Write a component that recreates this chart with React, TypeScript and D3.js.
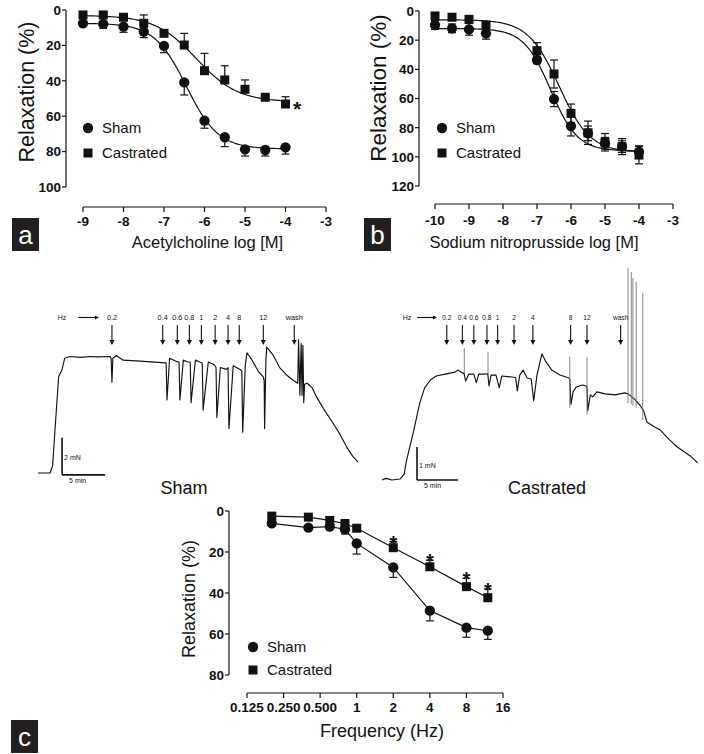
import React from "react";
import * as d3 from "d3";

const FONT = "'Liberation Sans', Arial, Helvetica, sans-serif";
const INK = "#111";

// ---------- Panel a: Acetylcholine ----------
const achLogM = [-9, -8.5, -8, -7.5, -7, -6.5, -6, -5.5, -5, -4.5, -4];
const achSham = [7.5, 7.9, 9.4, 12.2, 20.3, 40.9, 62.5, 71.9, 78.7, 79.1, 77.6];
const achShamErr = [1.5, 2.5, 3.2, 3.4, 3.8, 7.1, 4.3, 5.3, 3.8, 3.4, 3.8];
const achCast = [2.8, 2.8, 4.1, 7.5, 13.2, 19.8, 34.3, 39.5, 44.8, 49.3, 53.1];
const achCastErr = [1.8, 1.5, 1.5, 4.7, 1.5, 6.6, 9.8, 8, 5.3, 1.5, 4.1];
// fit parameters: bottom, top, logEC50, hill
const achShamFit = [7.5, 78.5, -6.45, 1.1];
const achCastFit = [3, 52, -6.2, 0.85];
const achTicksX = [-9, -8, -7, -6, -5, -4, -3];
const achTicksY = [0, 20, 40, 60, 80, 100];

// ---------- Panel b: Sodium nitroprusside ----------
const snpLogM = [-10, -9.5, -9, -8.5, -7, -6.5, -6, -5.5, -5, -4.5, -4];
const snpSham = [9.6, 11.9, 12.6, 15.3, 33.6, 60.4, 78.9, 83.9, 90.7, 93, 96.5];
const snpShamErr = [3, 3, 4, 4, 2.5, 5.2, 6.8, 5, 4, 4, 4];
const snpCast = [3.4, 4.3, 5.7, 9.6, 27.2, 43.2, 70.2, 83.5, 90, 93, 98.8];
const snpCastErr = [2, 2, 2, 2, 5.5, 9.6, 6.4, 8, 6, 5.5, 6];
const snpShamFit = [12, 96, -6.6, 1.1];
const snpCastFit = [6, 97, -6.35, 0.95];
const snpTicksX = [-10, -9, -8, -7, -6, -5, -4, -3];
const snpTicksY = [0, 20, 40, 60, 80, 100, 120];

// ---------- Panel c: Frequency ----------
const freqHz = [0.2, 0.4, 0.6, 0.8, 1, 2, 4, 8, 12];
const freqSham = [6, 8.1, 7.6, 8.9, 15.8, 27.5, 48.6, 56.9, 58.4];
const freqShamErr = [1, 1, 1, 2.3, 5.2, 4.9, 5, 4.7, 4.2];
const freqCast = [2.5, 3, 4.6, 6.2, 8.4, 17.9, 27.2, 36.9, 42.3];
const freqCastErr = [1, 1, 1, 2, 1, 3, 3.2, 4.1, 4.3];
const freqSignificant = [false, false, false, false, false, true, true, true, true];
const freqTicks = [0.125, 0.25, 0.5, 1, 2, 4, 8, 16];
const freqTickLabels = ["0.125", "0.250", "0.500", "1", "2", "4", "8", "16"];
const freqTicksY = [0, 20, 40, 60, 80];

// ---------- Traces (time in min, tension in mN) ----------
const shamTrace: [number, number][] = [
  [0, 0], [1.4, 0], [1.7, 0.4], [2.0, 2.5], [2.4, 5.2], [2.8, 5.6], [3.1, 6.2], [3.7, 6.3], [5, 6.25], [6, 6.3], [7, 6.28], [8.4, 6.3],
  [8.5, 6.2], [8.6, 4.9], [8.7, 6.2], [9.1, 6.35], [9.9, 6.1], [11.9, 6.05], [14.8, 5.95],
  [14.9, 5.95], [15.0, 3.95], [15.3, 6.2], [16.0, 6.05],
  [16.4, 6.0], [16.5, 3.95], [16.9, 6.1], [17.4, 6.0],
  [17.7, 6.0], [17.8, 3.8], [18.3, 6.1], [18.8, 6.0],
  [19.1, 5.95], [19.2, 3.4], [19.8, 6.0], [20.5, 5.85],
  [20.7, 5.7], [20.8, 3.0], [21.2, 5.7], [21.9, 5.6],
  [22.1, 5.7], [22.2, 2.4], [22.7, 5.8], [23.5, 5.6],
  [23.7, 5.5], [23.8, 2.2], [24.1, 5.8], [24.3, 6.5], [24.9, 6.1], [25.6, 5.5], [26.2, 5.2],
  [26.3, 5.0], [26.35, 2.4], [26.5, 6.1], [26.6, 6.8], [27.3, 6.4], [28.1, 5.7], [28.9, 5.3], [29.7, 5.0], [30.2, 4.85],
  [30.3, 7.2], [30.45, 4.2], [30.6, 7.0], [30.7, 4.2], [30.8, 6.9], [30.9, 3.8], [31.0, 4.8], [31.3, 4.85], [31.9, 4.6],
  [32.4, 4.1], [33.3, 3.4], [34.3, 2.7], [35.1, 2.1], [35.9, 1.4], [36.6, 0.9], [37.2, 0.6],
];
const shamStimLabels = ["0.2", "0.4", "0.6", "0.8", "1", "2", "4", "8", "12", "wash"];
const shamStimTimes = [8.6, 14.5, 16.2, 17.6, 19.0, 20.6, 22.1, 23.4, 26.2, 29.8];

const castTrace: [number, number][] = [
  [0, 0], [0.5, 0.05], [1.2, 0], [2.2, 0.03], [2.7, 0.18], [3.0, 0.6], [3.8, 1.42], [4.6, 2.33], [5.2, 2.79], [5.9, 3.03], [6.6, 3.15],
  [7.7, 3.21], [8.9, 3.27], [9.3, 3.33], [9.8, 3.24], [10.0, 3.24], [10.2, 3.0], [10.6, 3.21], [11.2, 3.21], [11.5, 2.95], [11.8, 3.21],
  [12.4, 3.21], [12.9, 3.22], [13.05, 2.85], [13.3, 3.18], [13.9, 3.18], [14.3, 2.8], [14.6, 3.15], [15.9, 3.12], [16.3, 3.1], [16.5, 2.7],
  [16.8, 3.18], [17.2, 3.33], [17.7, 3.09], [18.2, 3.06], [18.5, 2.4], [18.9, 3.18], [19.5, 3.82], [20.0, 3.58], [20.7, 3.33], [21.7, 3.18],
  [22.8, 3.09], [22.9, 3.05], [23.05, 2.3], [23.3, 2.67], [23.7, 2.82], [24.4, 2.88], [24.9, 2.85], [25.0, 2.8], [25.1, 2.1], [25.4, 2.58],
  [25.7, 2.52], [26.2, 2.67], [27.2, 2.61], [28.4, 2.58], [29.6, 2.64], [30.0, 2.61], [30.8, 2.45], [31.5, 2.25], [31.9, 2.1], [32.3, 1.76],
  [33.3, 1.6], [33.9, 1.52], [35.1, 1.21], [36.0, 1.0], [37.6, 0.73], [38.5, 0.52],
];
// [time, low, high] thin spikes
const castSpikes: [number, number, number][] = [
  [10.04, 3.24, 4.0], [12.93, 3.2, 3.88], [22.9, 2.18, 3.73], [25.0, 1.97, 3.73],
  [30.0, 2.33, 6.42], [30.4, 2.3, 6.3], [30.6, 2.25, 6.12], [31.0, 2.2, 6.0], [31.8, 1.82, 5.67],
];
const castStimLabels = ["0.2", "0.4", "0.6", "0.8", "1", "2", "4", "8", "12", "wash"];
const castStimTimes = [7.9, 9.8, 11.2, 12.8, 14.1, 16.1, 18.4, 23.0, 25.0, 29.1];

function logistic(p: number[], x: number) {
  const [b, t, ec, h] = p;
  return b + (t - b) / (1 + Math.pow(10, (ec - x) * h));
}

function ErrorBars({ xs, ys, xv, yv, ev, dir, cap = 8 }: any) {
  const out: any[] = [];
  xv.forEach((x: number, i: number) => {
    const X = xs(x);
    const Y = ys(yv[i]);
    if (dir !== "up") {
      const y2 = ys(yv[i] + ev[i]);
      out.push(<line key={"d" + i} x1={X} x2={X} y1={Y} y2={y2} />);
      out.push(<line key={"dc" + i} x1={X - cap / 2} x2={X + cap / 2} y1={y2} y2={y2} />);
    }
    if (dir !== "down") {
      const y2 = ys(yv[i] - ev[i]);
      out.push(<line key={"u" + i} x1={X} x2={X} y1={Y} y2={y2} />);
      out.push(<line key={"uc" + i} x1={X - cap / 2} x2={X + cap / 2} y1={y2} y2={y2} />);
    }
  });
  return <g stroke={INK} strokeWidth={1.2}>{out}</g>;
}

function Marker({ x, y, kind, size = 9 }: any) {
  if (kind === "circle") return <circle cx={x} cy={y} r={size / 2 + 0.4} fill={INK} />;
  return <rect x={x - size / 2} y={y - size / 2} width={size} height={size} fill={INK} />;
}

function Axes({ xs, ys, yAxisX, xAxisY, xTicks, xLabels, yTicks, xDomain, yDomain, tickFont = 13.5, xLabelBase }: any) {
  return (
    <g>
      <line x1={yAxisX} x2={yAxisX} y1={ys(yDomain[0])} y2={ys(yDomain[1])} stroke={INK} strokeWidth={1.2} />
      {yTicks.map((t: number) => (
        <g key={"y" + t}>
          <line x1={yAxisX - 4} x2={yAxisX} y1={ys(t)} y2={ys(t)} stroke={INK} strokeWidth={1.2} />
          <text x={yAxisX - 5} y={ys(t)} dy="0.36em" textAnchor="end" fontSize={tickFont} fontWeight="bold" fontFamily={FONT} fill={INK}>{t}</text>
        </g>
      ))}
      <line x1={xs(xDomain[0])} x2={xs(xDomain[1])} y1={xAxisY} y2={xAxisY} stroke={INK} strokeWidth={1.2} />
      {xTicks.map((t: number, i: number) => (
        <g key={"x" + t}>
          <line x1={xs(t)} x2={xs(t)} y1={xAxisY} y2={xAxisY + 5} stroke={INK} strokeWidth={1.2} />
          <text x={xs(t)} y={xLabelBase} textAnchor="middle" fontSize={tickFont} fontWeight="bold" fontFamily={FONT} fill={INK}>{xLabels ? xLabels[i] : String(t)}</text>
        </g>
      ))}
    </g>
  );
}

function Legend({ x, y1, y2, fontSize = 15 }: any) {
  return (
    <g>
      <Marker x={x} y={y1} kind="circle" size={9.5} />
      <text x={x + 14} y={y1} dy="0.36em" fontSize={fontSize} fontFamily={FONT} fill={INK}>Sham</text>
      <Marker x={x} y={y2} kind="square" size={9} />
      <text x={x + 14} y={y2} dy="0.36em" fontSize={fontSize} fontFamily={FONT} fill={INK}>Castrated</text>
    </g>
  );
}

function PanelLetter({ x, y, letter }: any) {
  return (
    <g>
      <rect x={x} y={y} width={27} height={33} fill="#231f20" />
      <text x={x + 13.5} y={y + 25.5} textAnchor="middle" fontSize={26} fontFamily={FONT} fill="#fff">{letter}</text>
    </g>
  );
}

function DosePanel({ xs, ys, yAxisX, xAxisY, xTicks, yTicks, xDomain, yDomain, doses, sham, shamErr, cast, castErr, shamDir, castDir, shamFit, castFit, fitFrom, fitTo, xLabelBase }: any) {
  const fitX = d3.range(fitFrom, fitTo + 0.0001, 0.04);
  const shamPath = d3.line<number>().x((d) => xs(d)).y((d) => ys(logistic(shamFit, d)))(fitX) || "";
  const castPath = d3.line<number>().x((d) => xs(d)).y((d) => ys(logistic(castFit, d)))(fitX) || "";
  return (
    <g>
      <Axes xs={xs} ys={ys} yAxisX={yAxisX} xAxisY={xAxisY} xTicks={xTicks} yTicks={yTicks} xDomain={xDomain} yDomain={yDomain} xLabelBase={xLabelBase} />
      <path d={shamPath} fill="none" stroke={INK} strokeWidth={1.2} />
      <path d={castPath} fill="none" stroke={INK} strokeWidth={1.2} />
      <ErrorBars xs={xs} ys={ys} xv={doses} yv={sham} ev={shamErr} dir={shamDir} />
      <ErrorBars xs={xs} ys={ys} xv={doses} yv={cast} ev={castErr} dir={castDir} />
      {doses.map((d: number, i: number) => <Marker key={"s" + i} x={xs(d)} y={ys(sham[i])} kind="circle" size={9.5} />)}
      {doses.map((d: number, i: number) => <Marker key={"c" + i} x={xs(d)} y={ys(cast[i])} kind="square" size={9} />)}
    </g>
  );
}

function Arrow({ x1, y1, x2, y2, head = 4 }: any) {
  const ang = Math.atan2(y2 - y1, x2 - x1);
  const hx1 = x2 - head * Math.cos(ang) + (head * 0.5) * Math.sin(ang);
  const hy1 = y2 - head * Math.sin(ang) - (head * 0.5) * Math.cos(ang);
  const hx2 = x2 - head * Math.cos(ang) - (head * 0.5) * Math.sin(ang);
  const hy2 = y2 - head * Math.sin(ang) + (head * 0.5) * Math.cos(ang);
  return (
    <g>
      <line x1={x1} y1={y1} x2={x2 - head * 0.6 * Math.cos(ang)} y2={y2 - head * 0.6 * Math.sin(ang)} stroke={INK} strokeWidth={1.1} />
      <polygon points={`${x2},${y2} ${hx1},${hy1} ${hx2},${hy2}`} fill={INK} />
    </g>
  );
}

function Trace({ data, x0, y0, pxPerMin, pxPerMN, times, labels, hzT, hzArrow, spikes, barT, barMN, barOrigin, title, titleX, labelFont }: any) {
  const xs = d3.scaleLinear().domain([0, 1]).range([x0, x0 + pxPerMin]);
  const ys = d3.scaleLinear().domain([0, 1]).range([y0, y0 - pxPerMN]);
  const path = d3.line<[number, number]>().x((d) => xs(d[0])).y((d) => ys(d[1]))(data) || "";
  const labY = 320;
  const arrowTop = 325;
  const arrowBot = 345;
  const bx = xs(barOrigin[0]);
  const by = ys(barOrigin[1]);
  return (
    <g>
      <path d={path} fill="none" stroke={INK} strokeWidth={1.15} strokeLinejoin="round" />
      {spikes && spikes.map((s: number[], i: number) => (
        <line key={"sp" + i} x1={xs(s[0])} x2={xs(s[0])} y1={ys(s[1])} y2={ys(s[2])} stroke="#777" strokeWidth={0.9} />
      ))}
      <text x={xs(hzT)} y={labY} textAnchor="middle" fontSize={7} fontFamily={FONT} fill={INK}>Hz</text>
      <Arrow x1={xs(hzArrow[0])} y1={labY - 2.5} x2={xs(hzArrow[1])} y2={labY - 2.5} head={4} />
      {times.map((t: number, i: number) => (
        <g key={"st" + i}>
          <text x={xs(t)} y={labY} textAnchor="middle" fontSize={labelFont} fontFamily={FONT} fill={INK}>{labels[i]}</text>
          <Arrow x1={xs(t)} y1={arrowTop} x2={xs(t)} y2={arrowBot} head={5} />
        </g>
      ))}
      <line x1={bx} x2={bx} y1={by} y2={ys(barOrigin[1] + barMN)} stroke={INK} strokeWidth={1.6} />
      <line x1={bx} x2={xs(barOrigin[0] + barT)} y1={by} y2={by} stroke={INK} strokeWidth={1.6} />
      <text x={bx + 2} y={(by + ys(barOrigin[1] + barMN)) / 2 + 4} fontSize={7} fontFamily={FONT} fill={INK}>{barMN} mN</text>
      <text x={bx + 7} y={by + 8} fontSize={7} fontFamily={FONT} fill={INK}>{barT} min</text>
      <text x={titleX} y={494} textAnchor="middle" fontSize={18} fontFamily={FONT} fill={INK}>{title}</text>
    </g>
  );
}

export default function App() {
  const ax = d3.scaleLinear().domain([-9, -3]).range([83, 326]);
  const ay = d3.scaleLinear().domain([0, 100]).range([10, 187]);
  const bx = d3.scaleLinear().domain([-10, -3]).range([435, 673]);
  const by = d3.scaleLinear().domain([0, 120]).range([11, 186]);
  const cx = d3.scaleLog().base(2).domain([0.125, 16]).range([247, 503]);
  const cy = d3.scaleLinear().domain([0, 80]).range([511, 675]);

  const shamLine = d3.line<number>().x((d, i) => cx(freqHz[i])).y((d) => cy(d))(freqSham) || "";
  const castLine = d3.line<number>().x((d, i) => cx(freqHz[i])).y((d) => cy(d))(freqCast) || "";

  return (
    <svg width={704} height={754} style={{ position: "absolute", left: 0, top: 0, background: "#fff" }} xmlns="http://www.w3.org/2000/svg">
      <rect x={0} y={0} width={704} height={754} fill="#fff" />
      {/* Panel a */}
      <DosePanel xs={ax} ys={ay} yAxisX={66} xAxisY={207} xTicks={achTicksX} yTicks={achTicksY} xDomain={[-9, -3]} yDomain={[0, 100]}
        doses={achLogM} sham={achSham} shamErr={achShamErr} cast={achCast} castErr={achCastErr} shamDir="down" castDir="up"
        shamFit={achShamFit} castFit={achCastFit} fitFrom={-9} fitTo={-4} xLabelBase={226} />
      <text x={ax(-4) + 7.5} y={ay(achCast[10]) + 12} fontSize={21} fontWeight="bold" fontFamily={FONT} fill={INK}>*</text>
      <Legend x={88} y1={128} y2={153} />
      <text transform="translate(34,92) rotate(-90)" textAnchor="middle" fontSize={21.5} fontFamily={FONT} fill={INK}>Relaxation (%)</text>
      <text x={207.5} y={248} textAnchor="middle" fontSize={16.5} fontFamily={FONT} fill={INK}>Acetylcholine log [M]</text>
      <PanelLetter x={12} y={218} letter="a" />

      {/* Panel b */}
      <DosePanel xs={bx} ys={by} yAxisX={419} xAxisY={204} xTicks={snpTicksX} yTicks={snpTicksY} xDomain={[-10, -3]} yDomain={[0, 120]}
        doses={snpLogM} sham={snpSham} shamErr={snpShamErr} cast={snpCast} castErr={snpCastErr} shamDir="both" castDir="both"
        shamFit={snpShamFit} castFit={snpCastFit} fitFrom={-10} fitTo={-4} xLabelBase={225} />
      <Legend x={442} y1={128} y2={153} />
      <text transform="translate(386,88) rotate(-90)" textAnchor="middle" fontSize={22.5} fontFamily={FONT} fill={INK}>Relaxation (%)</text>
      <text x={534} y={248} textAnchor="middle" fontSize={16.5} fontFamily={FONT} fill={INK}>Sodium nitroprusside log [M]</text>
      <PanelLetter x={364} y={218} letter="b" />

      {/* Traces */}
      <Trace data={shamTrace} x0={38} y0={473} pxPerMin={8.6} pxPerMN={18.5} times={shamStimTimes} labels={shamStimLabels}
        hzT={2.8} hzArrow={[4.65, 7.1]} barT={5} barMN={2} barOrigin={[2.8, -0.1]} title="Sham" titleX={184} labelFont={7.3} />
      <Trace data={castTrace} x0={382} y0={480} pxPerMin={8.2} pxPerMN={33} times={castStimTimes} labels={castStimLabels}
        hzT={3.05} hzArrow={[4.3, 6.7]} spikes={castSpikes} barT={5} barMN={1} barOrigin={[4.27, 0]} title="Castrated" titleX={547} labelFont={6.6} />

      {/* Panel c */}
      <Axes xs={cx} ys={cy} yAxisX={229} xAxisY={693} xTicks={freqTicks} xLabels={freqTickLabels} yTicks={freqTicksY} xDomain={[0.125, 16]} yDomain={[0, 80]} xLabelBase={712} />
      <path d={shamLine} fill="none" stroke={INK} strokeWidth={1.2} />
      <path d={castLine} fill="none" stroke={INK} strokeWidth={1.2} />
      <ErrorBars xs={cx} ys={cy} xv={freqHz} yv={freqSham} ev={freqShamErr} dir="down" />
      <ErrorBars xs={cx} ys={cy} xv={freqHz} yv={freqCast} ev={freqCastErr} dir="up" />
      {freqHz.map((f, i) => <Marker key={"cs" + i} x={cx(f)} y={cy(freqSham[i])} kind="circle" size={9.5} />)}
      {freqHz.map((f, i) => <Marker key={"cc" + i} x={cx(f)} y={cy(freqCast[i])} kind="square" size={9} />)}
      {freqHz.map((f, i) => freqSignificant[i] ? (
        <text key={"ast" + i} x={cx(f)} y={cy(freqCast[i] - freqCastErr[i]) + 8} textAnchor="middle" fontSize={20} fontWeight="bold" fontFamily={FONT} fill={INK}>*</text>
      ) : null)}
      <Legend x={253} y1={647} y2={670} />
      <text transform="translate(195,599) rotate(-90)" textAnchor="middle" fontSize={18} fontFamily={FONT} fill={INK}>Relaxation (%)</text>
      <text x={382} y={737} textAnchor="middle" fontSize={18} fontFamily={FONT} fill={INK}>Frequency (Hz)</text>
      <PanelLetter x={11} y={720} letter="c" />
    </svg>
  );
}
